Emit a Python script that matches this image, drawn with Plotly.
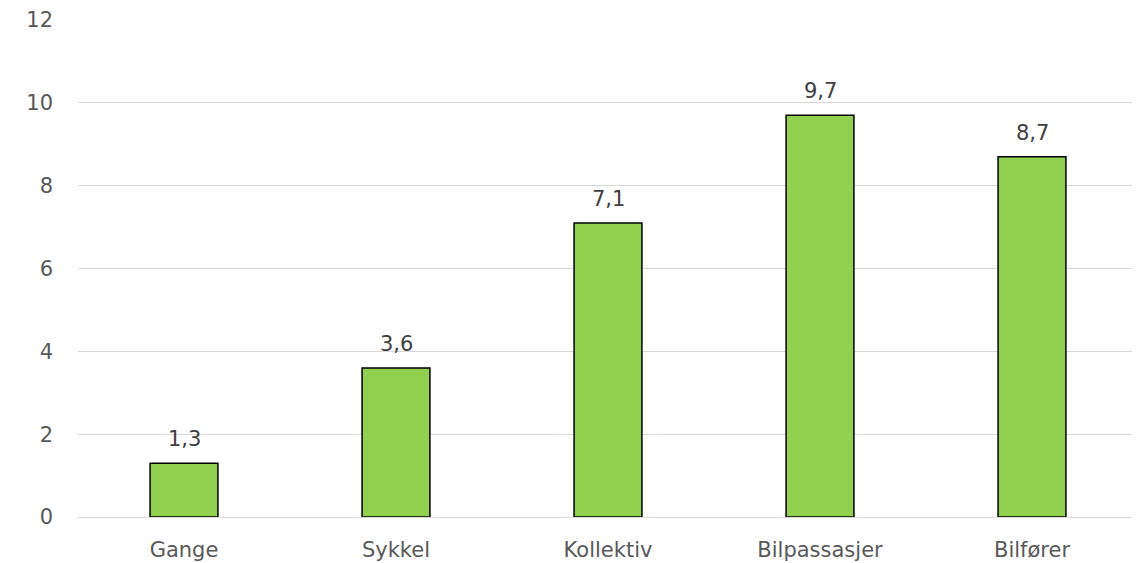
import plotly.graph_objects as go

categories = ["Gange", "Sykkel", "Kollektiv", "Bilpassasjer", "Bilfører"]
values = [1.3, 3.6, 7.1, 9.7, 8.7]
labels = ["1,3", "3,6", "7,1", "9,7", "8,7"]

fig = go.Figure(go.Bar(
    x=categories, y=values,
    marker=dict(color="#92D050", line=dict(color="black", width=1.5)),
))
for c, v, t in zip(categories, values, labels):
    fig.add_annotation(x=c, y=v, text=t, showarrow=False, yanchor="bottom", yshift=10,
                       font=dict(size=21, color="#404040"))
fig.update_layout(
    width=1140, height=563,
    margin=dict(l=70, r=10, t=12, b=54),
    paper_bgcolor="white", plot_bgcolor="white",
    bargap=0.68, showlegend=False,
    font=dict(family="DejaVu Sans, Verdana, sans-serif", size=21, color="#595959"),
    xaxis=dict(showgrid=False, showline=True, linecolor="#d9d9d9", linewidth=1, ticks="",
               automargin=False, ticklabelstandoff=14),
    yaxis=dict(range=[0, 12], dtick=2, showgrid=True, gridcolor="#d9d9d9", gridwidth=1,
               zeroline=False, ticklabelstandoff=24, showline=False, automargin=False),
)
fig.write_html("out.html")
